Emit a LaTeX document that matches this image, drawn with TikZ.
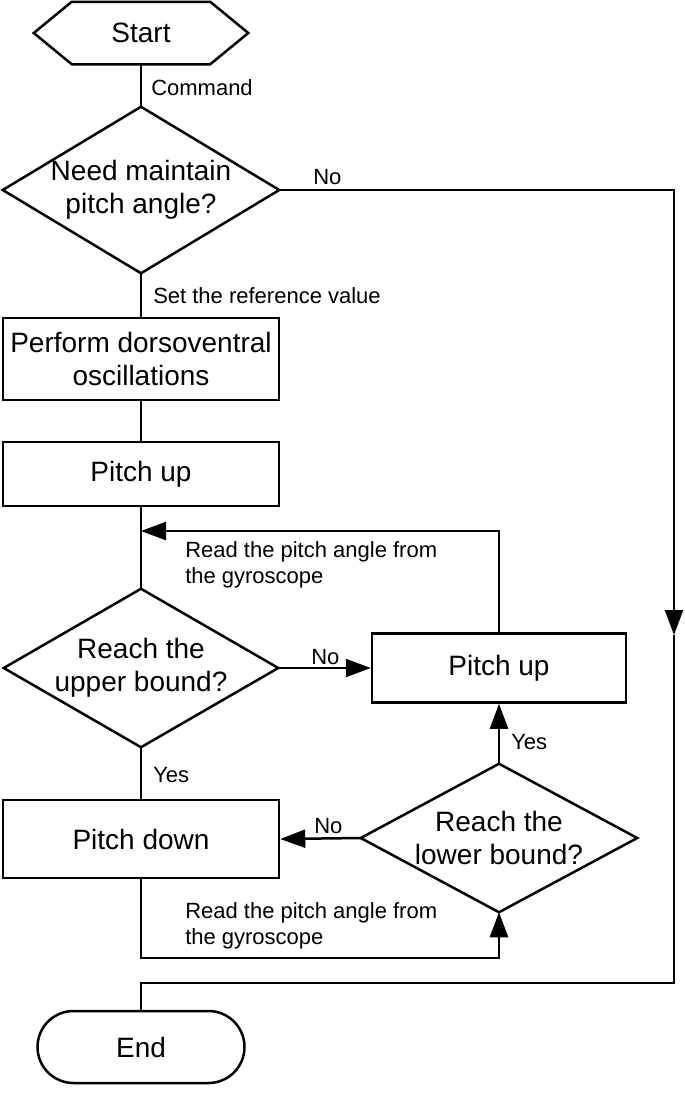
\documentclass[tikz,border=0pt]{standalone}
\usepackage{fontspec}
\setmainfont{Liberation Sans}
\usetikzlibrary{arrows.meta,shapes.misc,calc}
\begin{document}
\begin{tikzpicture}[x=1pt,y=-1pt,
  line width=2.5pt,
  big/.style={font=\fontsize{28}{33}\selectfont},
  small/.style={font=\fontsize{22}{26}\selectfont},
  boxnode/.style={draw, rectangle, big, align=center, inner sep=0pt},
  dianode/.style={rectangle, big, align=center, inner sep=0pt},
  lbl/.style={small, anchor=west, inner sep=0pt, align=left},
  arr/.style={-{Triangle[length=25pt,width=18pt]}},
]
\useasboundingbox (0,0) rectangle (685,1093);

% nodes
\node[dianode, minimum width=212pt, minimum height=60pt] (start) at (141,33) {Start};
\node[dianode, minimum width=274pt, minimum height=164pt] (d1) at (141,190) {Need maintain\\pitch angle?};
\node[boxnode, minimum width=276pt, minimum height=82pt] (box1) at (141,359) {Perform dorsoventral\\oscillations};
\node[boxnode, minimum width=276pt, minimum height=64pt] (box2) at (141,474) {Pitch up};
\node[dianode, minimum width=272pt, minimum height=156pt] (d2) at (141,668) {Reach the\\upper bound?};
\node[boxnode, minimum width=254pt, minimum height=69pt] (pu2) at (499,668) {Pitch up};
\node[boxnode, minimum width=276pt, minimum height=78pt] (pd) at (141,839) {Pitch down};
\node[dianode, minimum width=274pt, minimum height=146pt] (d3) at (499,838) {Reach the\\lower bound?};
\node[draw, rounded rectangle, big, minimum width=207pt, minimum height=72pt, inner sep=0pt] (end) at (141,1047) {End};

% shapes drawn around plain nodes
\draw ($(start.west)$) -- ($(start.north west)+(38,0)$) -- ($(start.north east)+(-38,0)$)
  -- (start.east) -- ($(start.south east)+(-38,0)$) -- ($(start.south west)+(38,0)$) -- cycle;
\draw (d1.north) -- (d1.east) -- (d1.south) -- (d1.west) -- cycle;
\draw (d2.north) -- (d2.east) -- (d2.south) -- (d2.west) -- cycle;
\draw (d3.north) -- (d3.east) -- (d3.south) -- (d3.west) -- cycle;

% helper coordinates
\coordinate (rarrow) at (674,635);
\coordinate (rbottom) at (674,983);
\coordinate (loopin) at (141,531);
\coordinate (bottomleft) at (141,958);

% connectors
\draw (start.south) -- (d1.north);
\draw[arr] (d1.east) -| (rarrow);
\draw (rarrow) -- (rbottom) -| (end.north);
\draw (d1.south) -- (box1.north);
\draw (box1.south) -- (box2.north);
\draw (box2.south) -- (d2.north);
\draw[arr] (pu2.north) |- (loopin);
\draw[arr] (d2.east) -- (pu2.west);
\draw (d2.south) -- (pd.north);
\draw[arr] (d3.north) -- (pu2.south);
\draw[arr] (d3.west) -- (pd.east);
\draw[arr] (pd.south) -- (bottomleft) -| (d3.south);

% labels
\node[lbl] (lcmd) at (150,88) {Command};
\node[lbl] (lno1) at (312,177) {No};
\node[lbl] (lset) at (152,296) {Set the reference value};
\node[lbl] (lread1) at (184,565) {Read the pitch angle from\\the gyroscope};
\node[lbl] (lno2) at (310,657) {No};
\node[lbl] (lyes1) at (152,775) {Yes};
\node[lbl] (lyes2) at (510,742) {Yes};
\node[lbl] (lno3) at (313,826) {No};
\node[lbl] (lread2) at (184,926) {Read the pitch angle from\\the gyroscope};
\end{tikzpicture}
\end{document}
